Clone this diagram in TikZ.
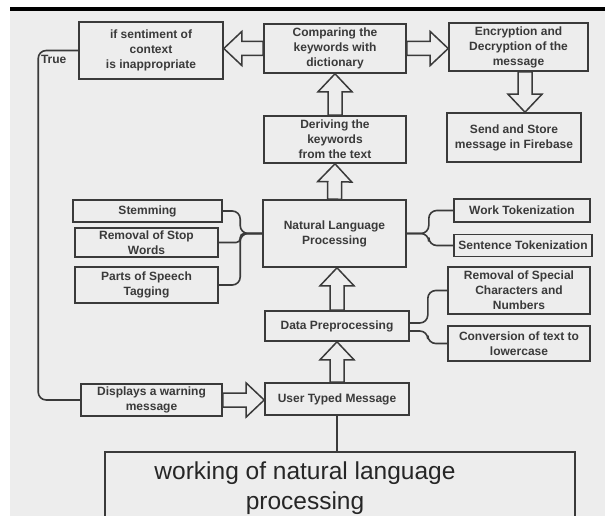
\documentclass[tikz,border=0pt]{standalone}
\usepackage{fontspec}
\setmainfont{Liberation Sans}
\usepackage{tikz}
\usetikzlibrary{calc}

\definecolor{bggray}{HTML}{EDEDED}
\definecolor{ink}{HTML}{3A3A3A}

% hollow block arrow from #1 to #2
\newcommand{\fatarrow}[2]{%
  \draw[fat] let \p1=(#1), \p2=(#2),
    \n1={atan2(\y2-\y1,\x2-\x1)}, \n2={veclen(\x2-\x1,\y2-\y1)} in
    [shift={(\p1)}, rotate=\n1]
    (0pt,-7pt) -- (\n2-18pt,-7pt) -- (\n2-18pt,-17pt) -- (\n2,0pt)
    -- (\n2-18pt,17pt) -- (\n2-18pt,7pt) -- (0pt,7pt) -- cycle;}

\begin{document}
\begin{tikzpicture}[
  x=1pt, y=-1pt,
  box/.style={
    draw=ink, line width=1.6pt, fill=bggray, text=ink,
    inner sep=1pt, align=center,
    font=\bfseries\fontsize{12}{15}\selectfont
  },
  link/.style={draw=ink, line width=1.6pt, rounded corners=8pt},
  fat/.style={draw=ink, fill=bggray, line width=1.5pt, line join=miter},
  bigtext/.style={text=black!85, align=center, font=\fontsize{24.5}{30}\selectfont},
]
  % page and background
  \useasboundingbox (0,0) rectangle (605,516);
  \clip (0,0) rectangle (605,516);
  \fill[white] (0,0) rectangle (605,516);
  \fill[bggray] (10,11) rectangle (605,516);
  \fill[black] (10,7) rectangle (605,11);

  % top row
  \node[box, minimum width=144pt, minimum height=57pt] (sent) at (151,50.5)
    {if sentiment of\\context\\is inappropriate};
  \node[box, minimum width=142pt, minimum height=49pt] (comp) at (335,48.5)
    {Comparing the\\keywords with\\dictionary};
  \node[box, minimum width=139pt, minimum height=48pt] (enc) at (518.5,47)
    {Encryption and\\Decryption of the\\message};
  \node[box, minimum width=134pt, minimum height=49pt] (store) at (514,137.5)
    {Send and Store\\message in Firebase};
  \node[box, minimum width=142pt, minimum height=47pt] (deriv) at (335,139.5)
    {Deriving the\\keywords\\from the text};

  % NLP and its parts
  \node[box, minimum width=143pt, minimum height=67pt] (nlp) at (334.5,233.5)
    {Natural Language\\Processing};
  \node[box, minimum width=149pt, minimum height=22pt] (stem) at (147.5,211) {Stemming};
  \node[box, minimum width=143pt, minimum height=29pt] (stop) at (146.5,242.5)
    {Removal of Stop\\Words};
  \node[box, minimum width=143pt, minimum height=36pt] (pos) at (146.5,285)
    {Parts of Speech\\Tagging};
  \node[box, minimum width=136pt, minimum height=23pt] (work) at (522,210.5) {Work Tokenization};
  \node[box, minimum width=138pt, minimum height=22pt] (senttok) at (523,245.5)
    {Sentence Tokenization};

  % preprocessing
  \node[box, minimum width=144pt, minimum height=30pt] (data) at (337,326) {Data Preprocessing};
  \node[box, minimum width=142pt, minimum height=47pt] (special) at (519,290.5)
    {Removal of Special\\Characters and\\Numbers};
  \node[box, minimum width=142pt, minimum height=35pt] (conv) at (519,343.5)
    {Conversion of text to\\lowercase};

  % input
  \node[box, minimum width=144pt, minimum height=32pt] (user) at (337,399) {User Typed Message};
  \node[box, minimum width=141pt, minimum height=32pt] (warn) at (151.5,400)
    {Displays a warning\\message};

  % caption box, open at the page foot
  \node[minimum width=470pt, minimum height=100pt, anchor=north] (title) at (340,452) {};
  \draw[draw=ink, line width=1.6pt] (title.south west) |- (title.north east) -- (title.south east);
  \node[bigtext] (titletext) at (305,488.5) {working of natural language\\processing};

  % block arrows
  \fatarrow{user.north}{data.south}
  \fatarrow{data.north}{data.north |- nlp.south}
  \fatarrow{nlp.north}{deriv.south}
  \fatarrow{deriv.north}{comp.south}
  \fatarrow{comp.west}{sent.east |- comp.west}
  \fatarrow{comp.east}{enc.west |- comp.east}
  \fatarrow{[xshift=6.5pt]enc.south}{[xshift=6.5pt]enc.south |- store.north}
  \fatarrow{warn.east}{warn.east -| user.west}

  % brace connectors
  \coordinate (jl) at ($(nlp.west)+(-22,0)$);
  \coordinate (jr) at ($(nlp.east)+(22,0)$);
  \draw[link] (stem.east) -| (jl) -- (nlp.west);
  \draw[link] (pos.east) -| (jl) -- (nlp.west);
  \draw[link, rounded corners=4pt] (stop.east) -| (jl) -- (nlp.west);
  \draw[link] (nlp.east) -- (jr) |- (work.west);
  \draw[link] (nlp.east) -- (jr) |- (senttok.west);
  \draw[link] ([yshift=3pt]data.east) -- ++(18,0) |- (special.west);
  \draw[link] ([yshift=-5pt]data.east) -- ++(18,0) |- (conv.west);

  % feedback loop and caption link
  \draw[link] (sent.west) -- ++(-40,0)
    node[below right, inner sep=2pt, yshift=-2pt, text=ink,
      font=\bfseries\fontsize{12}{15}\selectfont] {True}
    |- (warn.west);
  \draw[link, rounded corners=0pt] (user.south) -- (user.south |- title.north);
\end{tikzpicture}
\end{document}
